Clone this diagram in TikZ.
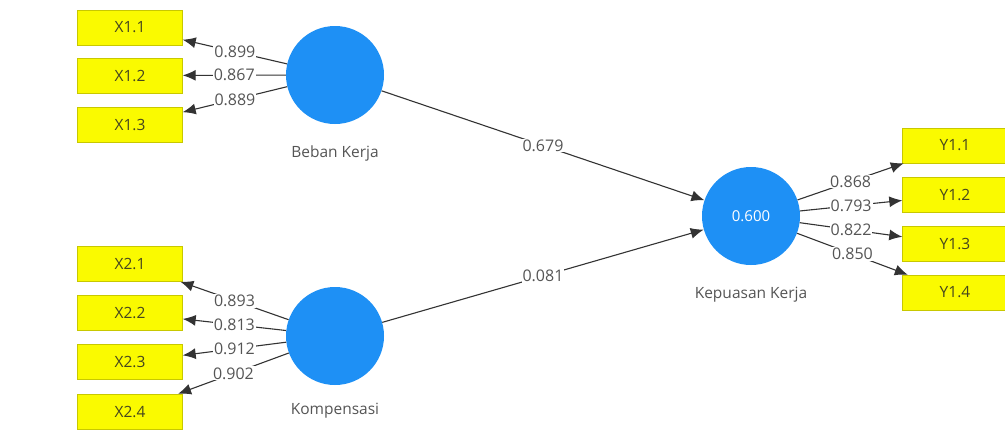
\documentclass[tikz,border=0pt]{standalone}
\usepackage{fontspec}
\setmainfont{Open Sans}
\usetikzlibrary{arrows.meta,positioning}
\definecolor{lvblue}{RGB}{30,144,245}
\definecolor{mvyellow}{RGB}{250,250,0}
\definecolor{mvtext}{RGB}{70,70,30}
\definecolor{txtgrey}{RGB}{85,85,85}
\tikzset{
  lv/.style={circle,fill=lvblue,minimum size=98pt,inner sep=0pt,text=white,font=\fontsize{15}{17}\selectfont},
  mv/.style={rectangle,fill=mvyellow,draw=mvyellow!80!black,line width=0.4pt,minimum width=105pt,minimum height=35pt,inner sep=0pt,text=mvtext,font=\fontsize{15.5}{18}\selectfont},
  lvname/.style={text=txtgrey,font=\fontsize{15.5}{18}\selectfont},
  coef/.style={fill=white,inner sep=1pt,text=txtgrey,font=\fontsize{16}{18}\selectfont},
  path/.style={draw=black!80,line width=1.1pt,-{Latex[length=13pt,width=11pt]}}
}

\begin{document}
\begin{tikzpicture}[x=1pt,y=-1pt]
\useasboundingbox[fill=white] (0,0) rectangle (1005,432);

% latent variables
\node[lv] (beban) at (335,75) {};
\node[lv] (komp) at (335,336) {};
\node[lv] (puas) at (751,216) {0.600};
\node[lvname] at (335,153) {Beban Kerja};
\node[lvname] at (335,411) {Kompensasi};
\node[lvname] at (751,295) {Kepuasan Kerja};

% indicators
\node[mv] (x11) at (130,27.5) {X1.1};
\node[mv] (x12) at (130,75.5) {X1.2};
\node[mv] (x13) at (130,125) {X1.3};
\node[mv] (x21) at (130,264) {X2.1};
\node[mv] (x22) at (130,313) {X2.2};
\node[mv] (x23) at (130,362) {X2.3};
\node[mv] (x24) at (130,411.5) {X2.4};
\node[mv] (y11) at (955,145.5) {Y1.1};
\node[mv] (y12) at (955,195) {Y1.2};
\node[mv] (y13) at (955,244) {Y1.3};
\node[mv] (y14) at (955,292.5) {Y1.4};

% outer loadings
\draw[path] (beban) -- node[coef] {0.899} (x11);
\draw[path] (beban) -- node[coef] {0.867} (x12);
\draw[path] (beban) -- node[coef] {0.889} (x13);

\draw[path] (komp) -- node[coef] {0.893} (x21);
\draw[path] (komp) -- node[coef] {0.813} (x22);
\draw[path] (komp) -- node[coef] {0.912} (x23);
\draw[path] (komp) -- node[coef] {0.902} (x24);

\draw[path] (puas) -- node[coef] {0.868} (y11);
\draw[path] (puas) -- node[coef] {0.793} (y12);
\draw[path] (puas) -- node[coef] {0.822} (y13);
\draw[path] (puas) -- node[coef] {0.850} (y14);

% inner model
\draw[path] (beban) -- node[coef] {0.679} (puas);
\draw[path] (komp) -- node[coef] {0.081} (puas);

\end{tikzpicture}
\end{document}
